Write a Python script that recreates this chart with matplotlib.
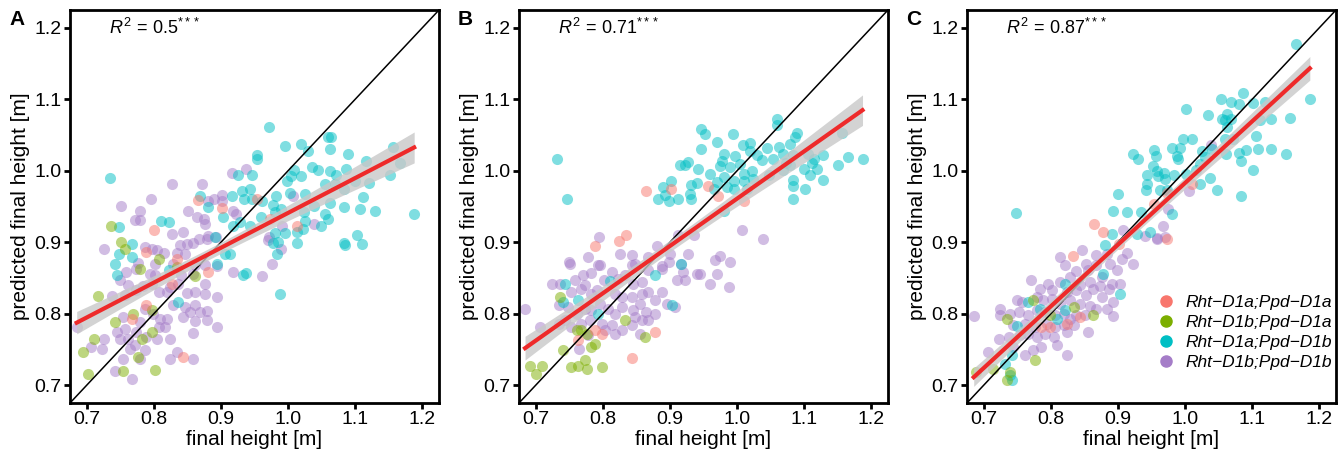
import numpy as np
import matplotlib
matplotlib.use("Agg")
import matplotlib.pyplot as plt

# ---- data (final height, predicted final height) ----
genotypes = ["Rht\u2212D1a;Ppd\u2212D1a", "Rht\u2212D1b;Ppd\u2212D1a",
             "Rht\u2212D1a;Ppd\u2212D1b", "Rht\u2212D1b;Ppd\u2212D1b"]
colors = ["#F8766D", "#7CAE00", "#00BFC4", "#A57DC8"]
panel_labels = ["A", "B", "C"]
r2_texts = [r"$R^2\,=\,0.5^{***}$", r"$R^2\,=\,0.71^{***}$", r"$R^2\,=\,0.87^{***}$"]
ticks = [0.7, 0.8, 0.9, 1.0, 1.1, 1.2]

A_aa = [(0.800, 0.917), (0.866, 0.959), (0.902, 0.948), (0.953, 0.961), (0.789, 0.887),
        (0.835, 0.877), (0.973, 0.932), (1.013, 0.923), (0.827, 0.842), (0.880, 0.859),
        (0.789, 0.812), (0.767, 0.793), (0.844, 0.739)]
A_ba = [(0.736, 0.923), (0.751, 0.901), (0.757, 0.891), (0.807, 0.876), (0.779, 0.863),
        (0.834, 0.866), (0.861, 0.853), (0.717, 0.825), (0.742, 0.789), (0.769, 0.800),
        (0.782, 0.765), (0.797, 0.775), (0.777, 0.740), (0.711, 0.764), (0.695, 0.747),
        (0.702, 0.716), (0.754, 0.720), (0.802, 0.721), (0.797, 0.805)]
A_ab = [(0.734, 0.990), (0.953, 1.022), (0.926, 0.994), (0.947, 0.994), (0.810, 0.930),
        (0.822, 0.929), (0.748, 0.922), (0.869, 0.965), (0.880, 0.949), (0.903, 0.935),
        (0.917, 0.965), (0.931, 0.971), (0.943, 0.975), (0.934, 0.960), (0.947, 0.961),
        (0.918, 0.923), (0.943, 0.923), (0.929, 0.929), (0.767, 0.897), (0.748, 0.883),
        (0.767, 0.880), (0.891, 0.908), (0.906, 0.883), (0.913, 0.883), (0.894, 0.869),
        (0.742, 0.869), (0.971, 1.061), (0.995, 1.034), (1.020, 1.037), (1.030, 1.027),
        (1.060, 1.047), (1.064, 1.047), (1.062, 1.030), (0.953, 1.016), (1.090, 1.023),
        (1.157, 1.033), (1.116, 1.014), (1.167, 1.011), (1.035, 1.005), (1.045, 1.001),
        (1.062, 0.999), (1.072, 0.994), (1.087, 1.003), (1.009, 1.001), (1.005, 0.992),
        (1.020, 0.992), (0.998, 0.986), (1.055, 0.982), (1.070, 0.982), (1.100, 0.985),
        (1.121, 0.983), (1.152, 0.994), (1.084, 0.975), (1.003, 0.969), (1.025, 0.968),
        (0.982, 0.965), (1.112, 0.963), (0.961, 0.957), (0.978, 0.952), (0.990, 0.946),
        (0.980, 0.943), (1.062, 0.955), (1.039, 0.951), (1.084, 0.949), (1.107, 0.947),
        (1.129, 0.944), (1.188, 0.939), (1.024, 0.943), (0.960, 0.936), (1.055, 0.940),
        (1.060, 0.932), (1.025, 0.930), (1.049, 0.923), (1.023, 0.919), (1.014, 0.914),
        (0.995, 0.913), (0.980, 0.913), (0.985, 0.901), (0.977, 0.899), (1.013, 0.899),
        (1.084, 0.899), (1.085, 0.896), (1.103, 0.910), (1.110, 0.898), (0.983, 0.884),
        (0.988, 0.827), (0.822, 0.861), (0.745, 0.854), (0.836, 0.817), (0.933, 0.854),
        (0.938, 0.857)]
A_bb = [(0.827, 0.981), (0.872, 0.981), (0.916, 0.997), (0.937, 1.003), (0.751, 0.951),
        (0.796, 0.960), (0.779, 0.944), (0.772, 0.931), (0.780, 0.931), (0.827, 0.912),
        (0.844, 0.915), (0.851, 0.944), (0.865, 0.936), (0.874, 0.933), (0.876, 0.926),
        (0.889, 0.961), (0.901, 0.966), (0.902, 0.957), (0.881, 0.957), (0.918, 0.944),
        (0.923, 0.940), (0.881, 0.909), (0.893, 0.908), (0.725, 0.891), (0.787, 0.894),
        (0.797, 0.891), (0.805, 0.889), (0.815, 0.885), (0.839, 0.896), (0.849, 0.897),
        (0.859, 0.899), (0.846, 0.884), (0.834, 0.885), (0.868, 0.904), (0.879, 0.904),
        (0.777, 0.871), (0.802, 0.869), (0.829, 0.870), (0.861, 0.868), (1.008, 0.965),
        (1.039, 0.925), (0.991, 0.923), (0.971, 0.908), (0.970, 0.903), (0.989, 0.890),
        (0.976, 0.869), (0.961, 0.853), (0.759, 0.859), (0.750, 0.847), (0.774, 0.862),
        (0.794, 0.856), (0.802, 0.854), (0.841, 0.854), (0.859, 0.856), (0.876, 0.868),
        (0.894, 0.867), (0.918, 0.859), (0.737, 0.825), (0.757, 0.826), (0.762, 0.840),
        (0.774, 0.833), (0.784, 0.839), (0.797, 0.842), (0.807, 0.831), (0.819, 0.831),
        (0.824, 0.838), (0.836, 0.841), (0.849, 0.829), (0.861, 0.831), (0.876, 0.841),
        (0.876, 0.827), (0.894, 0.823), (0.829, 0.812), (0.846, 0.810), (0.861, 0.812),
        (0.879, 0.804), (0.869, 0.803), (0.854, 0.803), (0.844, 0.796), (0.861, 0.790),
        (0.879, 0.791), (0.894, 0.782), (0.859, 0.773), (0.685, 0.782), (0.754, 0.796),
        (0.757, 0.779), (0.779, 0.789), (0.745, 0.775), (0.750, 0.765), (0.762, 0.765),
        (0.774, 0.775), (0.789, 0.768), (0.804, 0.765), (0.799, 0.800), (0.809, 0.793),
        (0.819, 0.793), (0.807, 0.782), (0.817, 0.782), (0.824, 0.764), (0.834, 0.747),
        (0.824, 0.737), (0.859, 0.737), (0.787, 0.749), (0.754, 0.737), (0.764, 0.751),
        (0.772, 0.756), (0.779, 0.736), (0.707, 0.753), (0.722, 0.751), (0.725, 0.765),
        (0.742, 0.720), (0.767, 0.709), (0.787, 0.807)]

B_aa = [(0.865, 0.972), (0.901, 0.975), (0.957, 0.979), (0.788, 0.895), (0.824, 0.902),
        (0.834, 0.910), (0.972, 0.964), (1.011, 0.958), (0.788, 0.777), (0.799, 0.772),
        (0.763, 0.763), (0.878, 0.775), (0.843, 0.738)]
B_ba = [(0.691, 0.727), (0.709, 0.727), (0.701, 0.716), (0.736, 0.824), (0.741, 0.749),
        (0.753, 0.726), (0.763, 0.727), (0.773, 0.735), (0.776, 0.723), (0.799, 0.725),
        (0.761, 0.777), (0.768, 0.777), (0.776, 0.772), (0.788, 0.758), (0.783, 0.753),
        (0.833, 0.791), (0.863, 0.768)]
B_ab = [(0.732, 1.017), (0.747, 0.960), (0.890, 0.977), (0.901, 0.986), (0.893, 0.966),
        (0.882, 0.960), (0.899, 0.957), (0.912, 0.960), (0.915, 1.008), (0.927, 1.012),
        (0.922, 1.008), (0.942, 1.003), (0.946, 1.030), (0.946, 1.058), (0.952, 1.052),
        (0.932, 0.980), (0.941, 0.983), (0.930, 0.968), (0.932, 0.960), (1.060, 1.073),
        (1.060, 1.064), (0.994, 1.051), (0.970, 1.040), (1.089, 1.053), (1.087, 1.047),
        (1.156, 1.053), (1.009, 1.036), (1.019, 1.039), (1.019, 1.027), (1.044, 1.032),
        (1.062, 1.033), (1.079, 1.038), (0.980, 1.023), (0.997, 1.020), (0.977, 1.013),
        (0.975, 1.006), (0.990, 1.005), (1.005, 1.010), (1.029, 1.022), (1.037, 1.015),
        (1.053, 1.016), (1.069, 1.023), (1.073, 1.011), (1.084, 1.022), (1.106, 1.023),
        (1.114, 1.016), (1.128, 1.022), (1.111, 1.011), (1.166, 1.019), (1.187, 1.016),
        (1.150, 1.008), (0.960, 0.996), (0.970, 0.984), (0.980, 0.991), (0.995, 0.986),
        (1.010, 0.996), (1.022, 1.000), (1.010, 0.986), (1.024, 0.989), (1.047, 0.994),
        (1.069, 1.001), (1.079, 1.008), (1.100, 1.002), (1.119, 1.002), (1.109, 0.994),
        (1.128, 0.987), (1.083, 0.987), (1.084, 0.979), (1.101, 0.975), (1.084, 0.961),
        (0.965, 0.975), (0.985, 0.977), (0.995, 0.974), (1.015, 0.974), (0.981, 0.944),
        (0.744, 0.842), (0.741, 0.817), (0.763, 0.819), (0.811, 0.846), (0.878, 0.854),
        (0.903, 0.812), (0.917, 0.869), (0.793, 0.800)]
B_bb = [(0.794, 0.908), (0.778, 0.879), (0.749, 0.872), (0.825, 0.883), (0.843, 0.882),
        (0.796, 0.868), (0.880, 0.895), (0.900, 0.884), (0.927, 0.883), (0.936, 0.910),
        (0.912, 0.910), (0.867, 0.880), (0.848, 0.869), (0.888, 0.867), (0.917, 0.870),
        (1.007, 0.917), (1.038, 0.905), (0.974, 0.881), (0.967, 0.875), (0.990, 0.873),
        (0.970, 0.855), (0.960, 0.841), (0.988, 0.838), (0.945, 0.855), (0.684, 0.807),
        (0.706, 0.782), (0.765, 0.750), (0.724, 0.841), (0.736, 0.842), (0.751, 0.870),
        (0.771, 0.854), (0.783, 0.857), (0.793, 0.868), (0.758, 0.847), (0.753, 0.831),
        (0.768, 0.835), (0.773, 0.840), (0.783, 0.828), (0.791, 0.833), (0.801, 0.847),
        (0.813, 0.859), (0.823, 0.849), (0.833, 0.854), (0.843, 0.868), (0.845, 0.842),
        (0.858, 0.845), (0.868, 0.861), (0.888, 0.862), (0.898, 0.873), (0.910, 0.847),
        (0.920, 0.859), (0.940, 0.855), (0.922, 0.847), (0.818, 0.828), (0.828, 0.824),
        (0.843, 0.824), (0.858, 0.828), (0.868, 0.831), (0.878, 0.819), (0.888, 0.831),
        (0.895, 0.814), (0.907, 0.810), (0.734, 0.812), (0.748, 0.810), (0.761, 0.800),
        (0.773, 0.807), (0.783, 0.805), (0.796, 0.814), (0.808, 0.807), (0.818, 0.800),
        (0.828, 0.810), (0.845, 0.805), (0.855, 0.814), (0.865, 0.803), (0.878, 0.800),
        (0.848, 0.796), (0.858, 0.791), (0.868, 0.791), (0.734, 0.786), (0.744, 0.791),
        (0.753, 0.782), (0.768, 0.786), (0.781, 0.791), (0.798, 0.786), (0.803, 0.777),
        (0.813, 0.784), (0.818, 0.772), (0.828, 0.777), (0.843, 0.784), (0.855, 0.772),
        (0.778, 0.770)]

C_aa = [(1.011, 0.982), (0.973, 0.969), (0.953, 0.954), (0.864, 0.925), (0.878, 0.915),
        (0.901, 0.898), (0.833, 0.881), (0.843, 0.796), (0.799, 0.782), (0.786, 0.782),
        (0.824, 0.786), (0.973, 0.905)]
C_ba = [(0.734, 0.793), (0.799, 0.798), (0.834, 0.810), (0.863, 0.798), (0.776, 0.735),
        (0.689, 0.719), (0.714, 0.723), (0.739, 0.719), (0.734, 0.707), (0.774, 0.819)]
C_ab = [(1.166, 1.177), (1.186, 1.100), (1.087, 1.109), (1.053, 1.100), (1.069, 1.096),
        (1.081, 1.094), (1.101, 1.095), (1.119, 1.096), (1.001, 1.086), (1.034, 1.078),
        (1.055, 1.073), (1.062, 1.080), (1.060, 1.071), (1.069, 1.072), (1.112, 1.071),
        (1.128, 1.072), (1.156, 1.074), (0.997, 1.044), (1.011, 1.044), (0.993, 1.032),
        (0.980, 1.032), (1.062, 1.061), (1.106, 1.048), (1.060, 1.044), (1.072, 1.044),
        (0.953, 1.029), (0.923, 1.023), (0.930, 1.017), (0.957, 1.020), (0.988, 1.020),
        (0.990, 1.016), (1.025, 1.027), (1.040, 1.030), (1.030, 1.019), (1.022, 1.010),
        (1.061, 1.023), (1.081, 1.025), (1.091, 1.029), (1.109, 1.031), (1.128, 1.031),
        (1.150, 1.023), (1.083, 1.014), (1.102, 1.001), (0.952, 1.007), (0.958, 0.999),
        (0.944, 0.994), (0.960, 0.992), (0.970, 0.988), (0.983, 0.994), (0.968, 0.997),
        (0.943, 0.981), (0.942, 0.973), (0.962, 0.973), (0.973, 0.973), (1.017, 1.001),
        (1.001, 0.995), (1.022, 0.982), (1.037, 0.990), (1.047, 0.973), (1.084, 0.965),
        (0.900, 0.967), (0.748, 0.941), (0.892, 0.944), (0.913, 0.942), (0.935, 0.942),
        (0.980, 0.940), (0.891, 0.912), (0.928, 0.912), (0.948, 0.915), (0.881, 0.896),
        (0.878, 0.855), (0.903, 0.828), (0.821, 0.841), (0.766, 0.817), (0.784, 0.807),
        (0.821, 0.805), (0.809, 0.793), (0.749, 0.783), (0.742, 0.742), (0.732, 0.730),
        (0.739, 0.714), (0.742, 0.707)]
C_bb = [(1.038, 1.036), (1.006, 0.971), (0.975, 0.946), (0.908, 0.917), (0.940, 0.909),
        (0.958, 0.905), (0.846, 0.889), (0.868, 0.882), (0.883, 0.884), (0.814, 0.879),
        (0.821, 0.868), (0.853, 0.870), (0.868, 0.868), (0.888, 0.870), (0.913, 0.885),
        (0.923, 0.870), (0.898, 0.861), (0.906, 0.877), (0.838, 0.860), (0.856, 0.861),
        (0.876, 0.852), (0.771, 0.847), (0.796, 0.842), (0.814, 0.845), (0.829, 0.852),
        (0.843, 0.840), (0.858, 0.845), (0.873, 0.839), (0.891, 0.842), (0.903, 0.842),
        (0.784, 0.835), (0.801, 0.833), (0.824, 0.831), (0.838, 0.833), (0.853, 0.826),
        (0.863, 0.834), (0.876, 0.824), (0.886, 0.835), (0.893, 0.817), (0.749, 0.819),
        (0.757, 0.817), (0.779, 0.824), (0.789, 0.819), (0.801, 0.821), (0.814, 0.814),
        (0.829, 0.819), (0.843, 0.814), (0.858, 0.811), (0.868, 0.807), (0.883, 0.807),
        (0.685, 0.797), (0.724, 0.807), (0.724, 0.798), (0.739, 0.800), (0.752, 0.803),
        (0.766, 0.798), (0.779, 0.805), (0.791, 0.803), (0.806, 0.798), (0.819, 0.800),
        (0.829, 0.793), (0.838, 0.798), (0.851, 0.798), (0.893, 0.797), (0.744, 0.784),
        (0.761, 0.786), (0.776, 0.782), (0.794, 0.786), (0.806, 0.782), (0.819, 0.784),
        (0.834, 0.784), (0.722, 0.765), (0.737, 0.768), (0.754, 0.770), (0.766, 0.772),
        (0.779, 0.768), (0.791, 0.772), (0.804, 0.768), (0.824, 0.775), (0.856, 0.775),
        (0.707, 0.747), (0.744, 0.754), (0.761, 0.742), (0.774, 0.749), (0.786, 0.754),
        (0.809, 0.756), (0.824, 0.742), (0.967, 0.923), (0.958, 0.906), (0.970, 0.907)]

panels = [[A_aa, A_ba, A_ab, A_bb], [B_aa, B_ba, B_ab, B_bb], [C_aa, C_ba, C_ab, C_bb]]

plt.rcParams["font.family"] = ["Liberation Sans", "DejaVu Sans"]
plt.rcParams["mathtext.fontset"] = "custom"
plt.rcParams["mathtext.rm"] = "Liberation Sans"
plt.rcParams["mathtext.it"] = "Liberation Sans:italic"

fig = plt.figure(figsize=(13.43, 4.57), dpi=100)
lefts = [70, 519, 967]
draw_order = [3, 2, 1, 0]

for p in range(3):
    ax = fig.add_axes([lefts[p] / 1343, 54 / 457, 369 / 1343, 393 / 457])
    groups = panels[p]
    for g in draw_order:
        pts = np.array(groups[g])
        ax.scatter(pts[:, 0], pts[:, 1], s=64, color=colors[g], alpha=0.5,
                   linewidths=0, zorder=2)

    # 1:1 line
    ax.axline((0.7, 0.7), slope=1, color="black", lw=1.1, zorder=3)

    # linear fit with 95% band
    allpts = np.vstack([np.array(g) for g in groups])
    x, y = allpts[:, 0], allpts[:, 1]
    slope, icpt = np.polyfit(x, y, 1)
    xs = np.linspace(x.min(), x.max(), 100)
    yhat = icpt + slope * xs
    n = len(x)
    resid = y - (icpt + slope * x)
    s = np.sqrt(np.sum(resid ** 2) / (n - 2))
    se = s * np.sqrt(1 / n + (xs - x.mean()) ** 2 / np.sum((x - x.mean()) ** 2))
    ax.fill_between(xs, yhat - 1.97 * se, yhat + 1.97 * se, color="#c8c8c8",
                    alpha=0.8, lw=0, zorder=3)
    ax.plot(xs, yhat, color="#ee2a2a", lw=3, zorder=4)

    ax.set_xlim(0.675, 1.225)
    ax.set_ylim(0.675, 1.225)
    ax.set_xticks(ticks)
    ax.set_yticks(ticks)
    ax.set_xticklabels([f"{t:.1f}" for t in ticks])
    ax.set_yticklabels([f"{t:.1f}" for t in ticks])
    ax.tick_params(direction="out", length=4, width=2, labelsize=14, pad=2)
    for sp in ax.spines.values():
        sp.set_linewidth(2)
    ax.set_xlabel("final height [m]", fontsize=15, labelpad=1)
    ax.set_ylabel("predicted final height [m]", fontsize=15, labelpad=3)

    ax.text(0.105, 0.955, r2_texts[p], transform=ax.transAxes, fontsize=13,
            ha="left", va="center")
    ax.text(-0.165, 1.0, panel_labels[p], transform=ax.transAxes, fontsize=15,
            fontweight="bold", ha="left", va="top")

    if p == 2:
        handles = [plt.Line2D([], [], ls="", marker="o", ms=8, color=colors[g])
                   for g in range(4)]
        ax.legend(handles, genotypes, loc="lower right", frameon=False,
                  bbox_to_anchor=(1.032, 0.045), handletextpad=0.15,
                  labelspacing=0.27, prop={"style": "italic", "size": 12.5})

fig.savefig("out.png", dpi=100)
